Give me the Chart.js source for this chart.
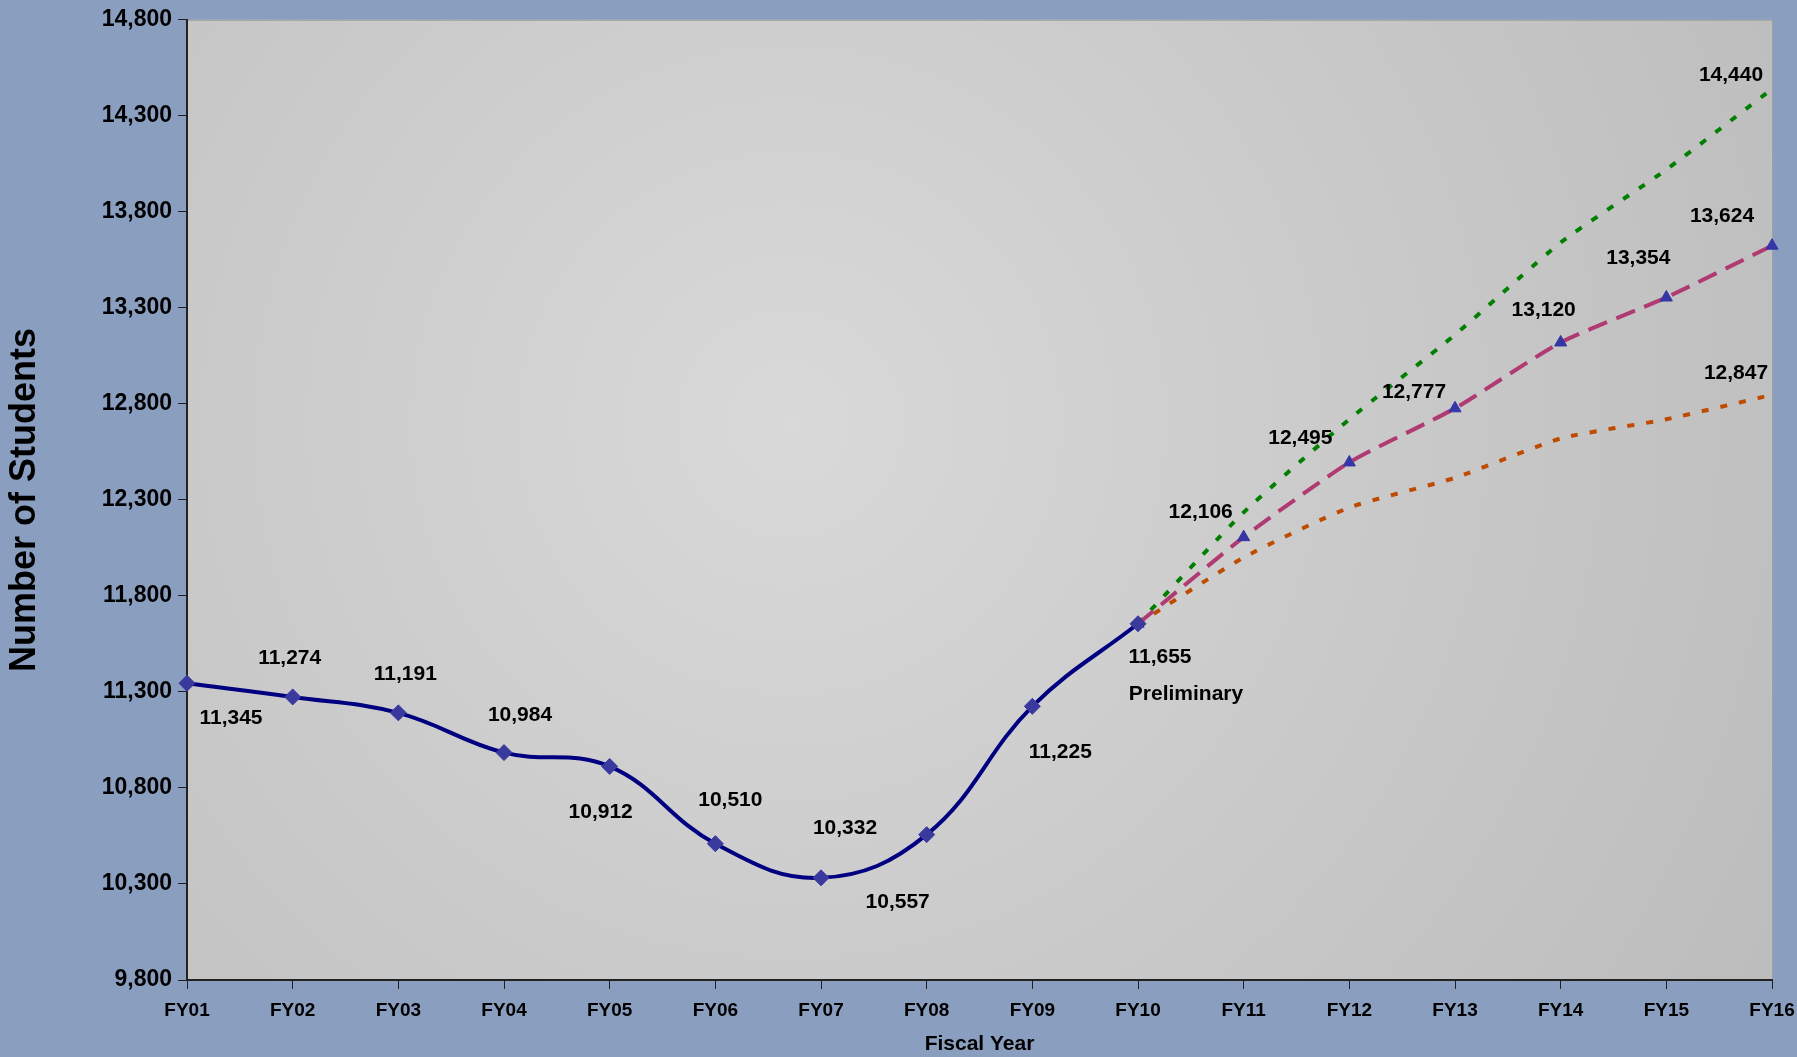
<!DOCTYPE html>
<html>
<head>
<meta charset="utf-8">
<title>Number of Students by Fiscal Year</title>
<script src="https://cdn.jsdelivr.net/npm/chart.js@4.4.1/dist/chart.umd.min.js"></script>
<style>
  html, body { margin: 0; padding: 0; background: #8A9FBF; overflow: hidden; }
</style>
</head>
<body>
<canvas id="enrollChart" width="1797" height="1057"></canvas>
<script>
// Chart data
const fiscalYears = ['FY01', 'FY02', 'FY03', 'FY04', 'FY05', 'FY06', 'FY07', 'FY08',
                     'FY09', 'FY10', 'FY11', 'FY12', 'FY13', 'FY14', 'FY15', 'FY16'];

const actualStudents = [11345, 11274, 11191, 10984, 10912, 10510, 10332, 10557, 11225, 11655,
                        null, null, null, null, null, null];
const projectedMid  = [null, null, null, null, null, null, null, null, null, 11655,
                       12106, 12495, 12777, 13120, 13354, 13624];
const projectedHigh = [null, null, null, null, null, null, null, null, null, 11655,
                       12235, 12720, 13160, 13640, 14020, 14440];
const projectedLow  = [null, null, null, null, null, null, null, null, null, 11655,
                       12000, 12260, 12415, 12620, 12720, 12847];

const yTicks = [9800, 10300, 10800, 11300, 11800, 12300, 12800, 13300, 13800, 14300, 14800];

const FONT = '"Liberation Sans", Arial, sans-serif';

// label placement: [dataset index, point index, dx, dy] relative to the point
const labelSpots = [
    [0, 0, 44, 35], [0, 1, -3, -39], [0, 2, 7, -39], [0, 3, 16, -37], [0, 4, -9, 46],
    [0, 5, 15, -43], [0, 6, 24, -50], [0, 7, -29, 68], [0, 8, 28, 46], [0, 9, 22, 33],
    [1, 10, -43, -25], [1, 11, -49, -24], [1, 12, -41, -16], [1, 13, -17, -32],
    [1, 14, -28, -39], [1, 15, -50, -29],
    [2, 15, -41, -14],
    [3, 15, -36, -22]
];

const plotBackground = {
    id: 'plotBackground',
    beforeDraw(chart) {
        const { ctx, chartArea: a } = chart;
        ctx.save();
        ctx.fillStyle = '#8A9FBF';
        ctx.fillRect(0, 0, chart.width, chart.height);
        const cx = a.left + (a.right - a.left) * 0.38;
        const cy = a.top + (a.bottom - a.top) * 0.42;
        const g = ctx.createRadialGradient(cx, cy, 0, cx, cy, (a.right - a.left) * 0.7);
        g.addColorStop(0, '#D9D9D9');
        g.addColorStop(0.55, '#C9C9C9');
        g.addColorStop(1, '#BDBDBD');
        ctx.fillStyle = g;
        ctx.fillRect(a.left, a.top, a.right - a.left, a.bottom - a.top);
        ctx.strokeStyle = '#A0A0A0';
        ctx.lineWidth = 1;
        ctx.beginPath();
        ctx.moveTo(a.left, a.top + 0.5);
        ctx.lineTo(a.right + 0.5, a.top + 0.5);
        ctx.lineTo(a.right + 0.5, a.bottom);
        ctx.stroke();
        ctx.restore();
    }
};

const valueLabels = {
    id: 'valueLabels',
    afterDatasetsDraw(chart) {
        const ctx = chart.ctx;
        ctx.save();
        ctx.font = 'bold 21px ' + FONT;
        ctx.fillStyle = '#000';
        ctx.textAlign = 'center';
        ctx.textBaseline = 'middle';
        labelSpots.forEach(([ds, i, dx, dy]) => {
            const pt = chart.getDatasetMeta(ds).data[i];
            const v = chart.data.datasets[ds].data[i];
            if (!pt || v == null) return;
            ctx.fillText(v.toLocaleString('en-US'), pt.x + dx, pt.y + dy);
        });
        // FY10 is a preliminary count
        const p10 = chart.getDatasetMeta(0).data[9];
        ctx.fillText('Preliminary', p10.x + 48, p10.y + 70);
        ctx.restore();
    }
};

const canvas = document.getElementById('enrollChart');
new Chart(canvas, {
    type: 'line',
    data: {
        labels: fiscalYears,
        datasets: [
            {
                label: 'Actual',
                data: actualStudents,
                borderColor: '#000080',
                borderWidth: 4,
                tension: 0.4,
                pointStyle: 'rectRot',
                pointRadius: 8,
                pointBackgroundColor: '#3A3A9E',
                pointBorderColor: '#3A3A9E',
                pointBorderWidth: 1
            },
            {
                label: 'Projection',
                data: projectedMid,
                borderColor: '#B03A72',
                borderWidth: 4,
                borderDash: [20, 10],
                tension: 0.2,
                pointStyle: 'triangle',
                pointRadius: 7,
                pointBackgroundColor: '#3535A5',
                pointBorderColor: '#3535A5',
                pointBorderWidth: 1
            },
            {
                label: 'High',
                data: projectedHigh,
                borderColor: '#007F00',
                borderWidth: 4,
                borderDash: [7, 12],
                tension: 0.2,
                pointRadius: 0
            },
            {
                label: 'Low',
                data: projectedLow,
                borderColor: '#BE4B00',
                borderWidth: 4,
                borderDash: [7, 12],
                tension: 0.2,
                pointRadius: 0
            }
        ]
    },
    options: {
        responsive: false,
        animation: false,
        layout: { padding: { top: 16, right: 25, left: 0, bottom: 0 } },
        plugins: {
            legend: { display: false },
            tooltip: { enabled: false }
        },
        scales: {
            x: {
                offset: false,
                grid: { drawOnChartArea: false, tickLength: 9, color: '#222', lineWidth: 1 },
                border: { color: '#222', width: 2 },
                ticks: {
                    color: '#000',
                    font: { family: FONT, size: 19, weight: 'bold' },
                    padding: 10,
                    maxRotation: 0,
                    autoSkip: false
                },
                title: {
                    display: true,
                    text: 'Fiscal Year',
                    color: '#000',
                    font: { family: FONT, size: 21, weight: 'bold' },
                    padding: { top: 0, bottom: 0 }
                },
                afterFit(scale) {
                    scale.height = 77;
                    scale.paddingLeft = 0;
                    scale.paddingRight = 0;
                }
            },
            y: {
                min: 9800,
                max: 14800,
                afterBuildTicks(scale) { scale.ticks = yTicks.map(v => ({ value: v })); },
                grid: { drawOnChartArea: false, tickLength: 9, color: '#222', lineWidth: 1 },
                border: { color: '#222', width: 2 },
                ticks: {
                    color: '#000',
                    font: { family: FONT, size: 23, weight: 'bold' },
                    padding: 6
                },
                title: {
                    display: true,
                    text: 'Number of Students',
                    color: '#000',
                    font: { family: FONT, size: 36, weight: 'bold' },
                    padding: { top: 3, bottom: 0 }
                },
                afterFit(scale) { scale.width = 187; }
            }
        }
    },
    plugins: [plotBackground, valueLabels]
});
</script>
</body>
</html>
